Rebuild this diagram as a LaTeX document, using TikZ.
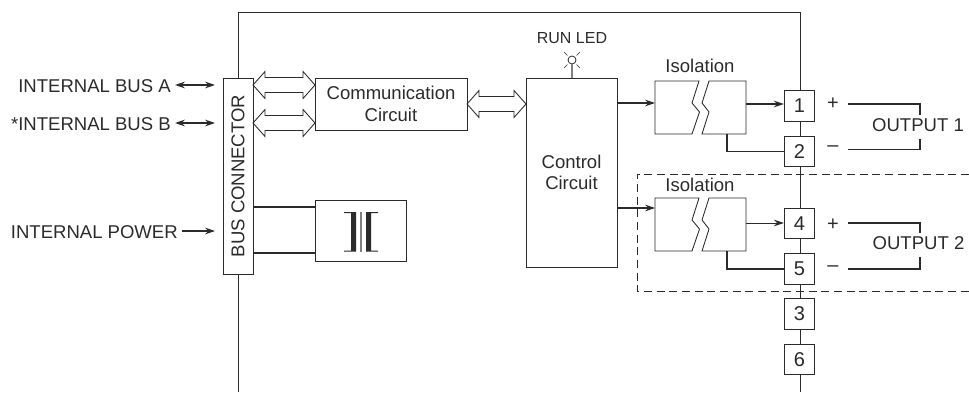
\documentclass[tikz,border=0pt]{standalone}
\usepackage{fontspec}
\setmainfont{Liberation Sans}
\usetikzlibrary{arrows.meta, calc}
\definecolor{ink}{HTML}{2B2B2B}
\tikzset{
  lbl/.style={inner sep=0pt, text=ink, font=\fontsize{13.9}{16.1}\selectfont, align=center},
  block/.style={draw=ink, fill=white, line width=0.65pt, inner sep=0pt, lbl},
  terminal/.style={block, minimum size=22.8pt, font=\fontsize{15}{17}\selectfont},
  wire/.style={draw=ink, line width=0.9pt},
  conn/.style={wire, -{Stealth[length=7.5pt, width=5pt, inset=2.5pt]}},
  bothconn/.style={wire, {Stealth[length=7.5pt, width=5pt, inset=2.5pt]}-{Stealth[length=7.5pt, width=5pt, inset=2.5pt]}},
  hollow/.style={draw=ink, fill=white, line width=0.65pt, line join=miter},
  isoblock/.pic={
    \draw[hollow] (0,0) -- (44,0) -- (37,22) -- (44.5,31) -- (37,53) -- (0,53) -- cycle;
    \draw[hollow] (54,0) -- (91,0) -- (91,53) -- (47,53) -- (54,31) -- (47,22) -- cycle;
    \coordinate (-in) at (0,0); \coordinate (-out) at (91,0); \coordinate (-gnd) at (72,53);
  }
}
% hollow double arrow between two named points on one level
\newcommand{\hollowarrow}[2]{
  \draw[hollow] let \p1=(#1), \p2=(#2), \n1={12*0.75pt}, \n2={7.5*0.75pt}, \n3={13.5*0.75pt} in
    (\p1) -- (\x1+\n1,\y1+\n3) -- (\x1+\n1,\y1+\n2) -- (\x2-\n1,\y1+\n2) -- (\x2-\n1,\y1+\n3) -- (\p2)
    -- (\x2-\n1,\y1-\n3) -- (\x2-\n1,\y1-\n2) -- (\x1+\n1,\y1-\n2) -- (\x1+\n1,\y1-\n3) -- cycle;
}

\begin{document}
\begin{tikzpicture}[x=0.75pt, y=-0.75pt]
  \useasboundingbox (0,0) rectangle (969,392);

  % module frame and output group
  \draw[draw=ink, line width=0.6pt] (238,392) -- (238,12) -- (800,12) -- (800,392);
  \draw[draw=ink, line width=0.55pt, dashed, dash pattern=on 6pt off 3.5pt] (969,174) -- (637,174) -- (637,291) -- (969,291);

  \node[block, minimum width=22.5pt, minimum height=147pt] (bus) at (238,176) {};
  \node[lbl, rotate=90] (busText) at (238,176) {BUS CONNECTOR};
  \node[block, minimum width=114pt, minimum height=39pt] (comm) at (391,104) {Communication\\Circuit};
  \node[block, minimum width=68.2pt, minimum height=141.8pt] (ctrl) at (571.5,172.5) {Control\\Circuit};
  \node[block, minimum width=68.2pt, minimum height=45.8pt] (power) at (360.5,230.5) {};

  % left side signals
  \node[lbl, anchor=east] (busA) at (171,86) {INTERNAL BUS A};
  \node[lbl, anchor=east] (busB) at (171,124) {*INTERNAL BUS B};
  \node[lbl, anchor=east] (pwr) at (178,232) {INTERNAL POWER};
  \coordinate (busAin) at (215,85); \coordinate (busBin) at (215,123); \coordinate (pwrIn) at (215,231);
  \draw[bothconn] (busA.east |- busAin) ++(4,0) -- (busAin);
  \draw[bothconn] (busB.east |- busBin) ++(4,0) -- (busBin);
  \draw[conn] (pwr.east |- pwrIn) ++(4,0) -- (pwrIn);

  % hollow bus arrows
  \coordinate (a1) at (253,85);  \coordinate (a2) at (315,85);
  \coordinate (b1) at (253,123); \coordinate (b2) at (315,123);
  \coordinate (c1) at (467,104); \coordinate (c2) at (526,104);
  \hollowarrow{a1}{a2}
  \hollowarrow{b1}{b2}
  \hollowarrow{c1}{c2}

  % transformer
  \draw[wire, line width=1.2pt] (bus.east |- 0,207) -- (power.west |- 0,207);
  \draw[wire, line width=1.2pt] (bus.east |- 0,253) -- (power.west |- 0,253);
  \fill[ink] (344,212) -- (356,212) -- (356,251.5) -- (344,251.5) -- (344,250.5) -- (351,250.5) -- (351,213) -- (344,213) -- cycle;
  \fill[ink] (378,212) -- (366,212) -- (366,251.5) -- (378,251.5) -- (378,250.5) -- (371,250.5) -- (371,213) -- (378,213) -- cycle;
  \draw[draw=gray, line width=1.5pt] (361,212) -- (361,251.5);

  % run led
  \node[lbl, font=\fontsize{12}{14}\selectfont] (runLed) at (572,38) {RUN LED};
  \node[draw=ink, fill=white, circle, line width=0.6pt, minimum size=6pt, inner sep=0pt] (led) at (572,60) {};
  \draw[draw=gray, line width=1pt] (led) -- (ctrl.north -| led);
  \foreach \a in {45,135,225,315}
    \draw[draw=ink, line width=0.5pt] (led.\a) ++(\a:1.5pt) -- ++(\a:3.5pt);

  % isolators
  \pic (isoA) at (655,81) {isoblock};
  \pic (isoB) at (655,198) {isoblock};
  \node[lbl] (isoAText) at (700,66) {Isolation};
  \node[lbl] (isoBText) at (700,185) {Isolation};

  % terminals
  \foreach \n/\y in {1/106,2/151.5,4/223.5,5/269,3/314,6/359.5}
    \node[terminal] (t\n) at (799.5,\y) {\n};

  \coordinate (inA) at (617,103); \coordinate (inB) at (617,208);
  \draw[conn, line width=1.1pt] (inA) -- (inA -| isoA-in);
  \draw[conn, line width=1.1pt] (inB) -- (inB -| isoB-in);
  \coordinate (outA) at (746,104); \coordinate (outB) at (746,223);
  \draw[conn] (outA) -- (outA -| t1.west);
  \draw[conn, line width=0.7pt] (outB) -- (outB -| t4.west);
  \draw[wire, line width=0.8pt] (isoA-gnd) |- (t2.west);
  \draw[wire, line width=0.8pt] (isoB-gnd) |- (t5.west);

  % outputs
  \node[lbl] (outOne) at (918,125) {OUTPUT 1};
  \node[lbl] (outTwo) at (918.5,243) {OUTPUT 2};
  \node[lbl, font=\fontsize{15}{17}\selectfont] (plusA) at (833,104) {+};
  \node[lbl, font=\fontsize{15}{17}\selectfont] (minusA) at (833,149) {--};
  \node[lbl, font=\fontsize{15}{17}\selectfont] (plusB) at (833,225) {+};
  \node[lbl, font=\fontsize{15}{17}\selectfont] (minusB) at (833,269) {--};
  \coordinate (pA) at (848,104); \coordinate (mA) at (848,149.5);
  \coordinate (pB) at (848,223); \coordinate (mB) at (848,269);
  \draw[wire] (pA) -- (920,104) -- (920,115);
  \draw[wire] (mA) -- (920,149.5) -- (920,139);
  \draw[wire] (pB) -- (920,223) -- (920,233);
  \draw[wire] (mB) -- (920,269) -- (920,257);
\end{tikzpicture}
\end{document}
